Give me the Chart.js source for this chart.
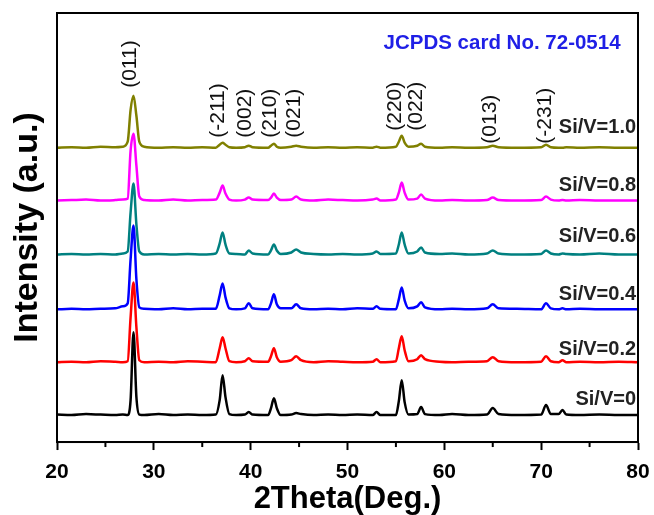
<!DOCTYPE html>
<html>
<head>
<meta charset="utf-8">
<title>XRD patterns Si/V</title>
<script src="https://cdn.jsdelivr.net/npm/chart.js@4.4.0/dist/chart.umd.min.js"></script>
<style>
    html, body { margin: 0; padding: 0; background: #fff; }
    canvas { display: block; }
</style>
</head>
<body>
<canvas id="xrdChart" width="654" height="515"></canvas>
<script>
/**
 */
var twoTheta = [20, 21.5, 23, 24.5, 26, 26.8, 27.3, 27.6, 27.9, 28.2, 28.5, 29, 30.5, 32, 33.5, 35,
    36.4, 36.8, 37.1, 37.4, 37.8, 38.5, 39.4, 39.8, 40.2, 41.8, 42.1, 42.4, 42.7, 43.1,
    44.2, 44.7, 45.2, 46.5, 48, 49.5, 51, 52.6, 53.0, 53.4, 55.0, 55.3, 55.6, 55.9, 56.3,
    57.2, 57.6, 58.0, 59.5, 60.8, 62.5, 64.4, 65.0, 65.6, 67.5, 70.0, 70.5, 71.0, 71.8,
    72.2, 72.6, 74, 76, 78, 80];

// intensities above each pattern's own baseline (a.u.)
var si0 = [0.5, 0, 1, 0.5, 0, 0.5, 0, 15, 83, 18, 0.5, 0, 1, 0, 0.5, 0,
    0.5, 15, 40, 18, 1, 0, 0.5, 3, 0.5, 0, 7, 17, 7, 0,
    0.5, 2, 1, 0, 0.5, 0, 0.5, 0, 3, 0, 0, 14, 35, 13, 0.5,
    1, 8, 1, 0, 1, 0, 0.5, 7, 1, 0, 0.5, 10, 1, 1,
    5, 0.5, 0, 0.5, 0, 0];
var si02 = [0, 0.5, 0, 1, 0.5, 0, 1, 45, 80, 35, 2, 0, 0.5, 0, 1, 0.5,
    0, 14, 25, 14, 1, 0, 1, 4, 1, 0.5, 6, 14, 5, 0.5,
    2, 6, 2, 0, 1, 0.5, 0, 0.5, 3, 0, 1, 14, 26, 12, 1,
    3, 7, 3, 0.5, 0, 0.5, 1, 5, 1, 0, 0.5, 6, 1, 0,
    2, 0, 0.5, 0, 0.5, 0];
var si04 = [0, 0.5, 0, 0.5, 1, 3, 6, 50, 84, 30, 2, 0.5, 0, 1, 0, 0.5,
    0.5, 14, 26, 12, 1, 0, 1, 6, 1, 0, 6, 15, 5, 1,
    1, 5, 1, 0, 0.5, 0, 1, 0.5, 3, 0.5, 0, 10, 22, 9, 1,
    3, 7, 2, 0, 0.5, 0, 1, 5, 1, 0.5, 0, 6, 1, 0,
    1, 0, 0.5, 0, 0, 0];
var si06 = [0, 0.5, 0, 0.5, 0, 1, 3, 42, 71, 30, 3, 0, 0.5, 0, 0.5, 0,
    1, 11, 22, 10, 1, 0.5, 0, 4, 1, 0, 4, 10, 4, 0.5,
    2, 5, 2, 0.5, 0, 0.5, 0, 1, 3, 0.5, 1, 10, 22, 10, 1,
    3, 7, 2, 0.5, 1, 0, 1, 4, 1, 0, 0.5, 4, 1, 0,
    1, 0.5, 0, 1, 0, 0];
var si08 = [0, 0.5, 1, 0, 0.5, 1, 2, 50, 67, 35, 4, 0.5, 0, 1, 0, 0.5,
    1, 8, 15, 7, 1, 0, 1, 3, 1, 0.5, 3, 7, 3, 0.5,
    1, 4, 1, 0, 1, 0.5, 0, 1, 2, 0, 1, 8, 18, 8, 1,
    2, 6, 2, 0, 0.5, 0, 0.5, 3, 0.5, 0, 0.5, 4, 1, 0,
    0.5, 0, 0.5, 0, 0, 0];
var si10 = [0, 0.5, 0, 1, 0.5, 1, 6, 38, 52, 32, 6, 1, 0, 0.5, 0, 0.5,
    0, 3, 5, 3, 0.5, 0, 0.5, 2, 0.5, 0, 2, 4, 1, 0,
    1, 2, 1, 0, 0.5, 0, 0.5, 0, 1, 0, 1, 6, 12, 5, 1,
    2, 4, 1, 0, 0.5, 0, 0.5, 2, 0.5, 0, 0.5, 3, 0.5, 0,
    0, 0.5, 0, 0.5, 0, 0];

var patterns = [si0, si02, si04, si06, si08, si10];
var sampleNames = ['Si/V=0', 'Si/V=0.2', 'Si/V=0.4', 'Si/V=0.6', 'Si/V=0.8', 'Si/V=1.0'];
// vertical shift of each pattern (a.u.)
var offsets = [27, 80, 133, 188, 242, 295];
var lineColors = ['#000000', '#ff0000', '#0000ff', '#008080', '#ff00ff', '#808000'];

// Miller indices written above the peaks
var hklLabels = ['(011)', '(-211)', '(002)', '(210)', '(021)', '(220)', '(022)', '(013)', '(-231)'];
var hklPos = [27.6, 36.6, 39.4, 42.0, 44.5, 54.9, 57.1, 64.7, 70.4];
var hklBase = [355, 305, 305, 305, 305, 312, 312, 299, 299];

var minorTicks = [25, 35, 45, 55, 65, 75];
var cardText = 'JCPDS card No. 72-0514';

var FONT = '"Liberation Sans", Arial, sans-serif';

/**
 * Build one shifted dataset per sample
 */
function buildDatasets() {
    var sets = [];
    for (var i = 0; i < patterns.length; i++) {
        var pts = [];
        for (var k = 0; k < twoTheta.length; k++) {
            pts.push({x: twoTheta[k], y: patterns[i][k] + offsets[i]});
        }
        sets.push({
            label: sampleNames[i],
            data: pts,
            borderColor: lineColors[i],
            borderWidth: 2.5,
            pointRadius: 0,
            fill: false,
            cubicInterpolationMode: 'monotone'
        });
    }
    return sets;
}

/**
 * Frame, minor ticks and the text written inside the plot
 */
var annotate = {
    id: 'annotate',
    afterDatasetsDraw: function (chart) {
        var ctx = chart.ctx;
        var xs = chart.scales.x;
        var ys = chart.scales.y;
        var a = chart.chartArea;
        ctx.save();

        ctx.strokeStyle = '#000';
        ctx.lineWidth = 2;
        ctx.strokeRect(a.left, a.top, a.right - a.left, a.bottom - a.top);
        for (var m = 0; m < minorTicks.length; m++) {
            var mx = xs.getPixelForValue(minorTicks[m]);
            ctx.beginPath();
            ctx.moveTo(mx, a.bottom);
            ctx.lineTo(mx, a.bottom + 5);
            ctx.stroke();
        }

        // hkl labels, rotated
        ctx.fillStyle = '#111';
        ctx.font = '21px ' + FONT;
        ctx.textAlign = 'left';
        ctx.textBaseline = 'middle';
        for (var h = 0; h < hklLabels.length; h++) {
            ctx.save();
            ctx.translate(xs.getPixelForValue(hklPos[h]), ys.getPixelForValue(hklBase[h]));
            ctx.rotate(-Math.PI / 2);
            ctx.fillText(hklLabels[h], 0, 0);
            ctx.restore();
        }

        // sample names on the right
        ctx.font = 'bold 20px ' + FONT;
        ctx.fillStyle = '#222';
        ctx.textAlign = 'right';
        ctx.textBaseline = 'alphabetic';
        var lift = [10, 7, 9, 12, 10, 15];
        for (var s = 0; s < sampleNames.length; s++) {
            ctx.fillText(sampleNames[s], xs.getPixelForValue(79.8), ys.getPixelForValue(offsets[s] + lift[s]));
        }

        ctx.font = 'bold 20.5px ' + FONT;
        ctx.fillStyle = '#1f1fe6';
        ctx.fillText(cardText, xs.getPixelForValue(78.2), ys.getPixelForValue(394));
        ctx.restore();
    }
};

function makeChart() {
    var ctx = document.getElementById('xrdChart').getContext('2d');
    var xrdChart = new Chart(ctx, {
        type: 'line',
        data: {datasets: buildDatasets()},
        options: {
            responsive: false,
            animation: false,
            layout: {padding: {left: 8, right: 16, top: 13, bottom: 0}},
            plugins: {legend: {display: false}, tooltip: {enabled: false}},
            scales: {
                x: {
                    type: 'linear',
                    min: 20,
                    max: 80,
                    ticks: {stepSize: 10, padding: 4, color: '#000', font: {family: FONT, size: 21, weight: 'bold', lineHeight: 1.76}},
                    grid: {drawOnChartArea: false, tickLength: 8, tickWidth: 2, tickColor: '#000'},
                    border: {color: '#000', width: 2},
                    title: {
                        display: true,
                        text: '2Theta(Deg.)',
                        color: '#000',
                        font: {family: FONT, size: 31, weight: 'bold', lineHeight: 1},
                        padding: {top: -11, bottom: 0}
                    }
                },
                y: {
                    min: 0,
                    max: 430,
                    ticks: {display: false},
                    grid: {display: false, drawTicks: false},
                    border: {color: '#000', width: 2},
                    title: {
                        display: true,
                        text: 'Intensity (a.u.)',
                        color: '#000',
                        font: {family: FONT, size: 34, weight: 'bold', lineHeight: 1},
                        padding: {top: 3, bottom: 12}
                    }
                }
            }
        },
        plugins: [annotate]
    });
}

makeChart();
</script>
</body>
</html>
